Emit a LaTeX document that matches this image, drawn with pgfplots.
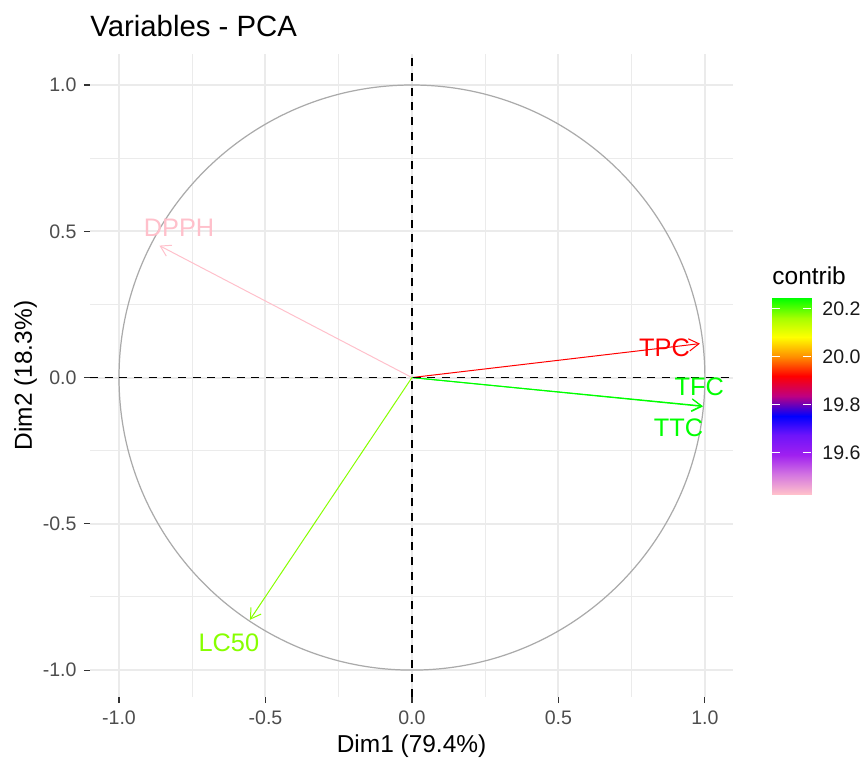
\documentclass[border=0pt]{standalone}
\usepackage{pgfplots}
\pgfplotsset{compat=1.18}
\usepackage{fontspec}
\setmainfont{Liberation Sans}
\usetikzlibrary{arrows.meta}
\definecolor{gray92}{RGB}{235,235,235}
\definecolor{gray30}{RGB}{77,77,77}
\definecolor{circ}{RGB}{170,170,170}
\definecolor{tickc}{RGB}{51,51,51}
\definecolor{cpink}{RGB}{255,192,203}
\definecolor{cred}{RGB}{255,0,0}
\definecolor{cgreen}{RGB}{0,255,0}
\definecolor{clc}{RGB}{135,255,0}
\pgfplotsset{colormap={contrib}{rgb255=(255,192,203) rgb255=(210,115,225) rgb255=(160,32,240) rgb255=(110,20,250) rgb255=(0,0,255) rgb255=(190,0,130) rgb255=(255,0,0) rgb255=(255,140,0) rgb255=(255,255,0) rgb255=(165,255,0) rgb255=(0,255,0)}}
\newcommand{\ticksize}{\fontsize{8.8}{10}\selectfont}
\newcommand{\labsize}{\fontsize{11.4}{13}\selectfont}
\begin{document}
\begin{tikzpicture}
\useasboundingbox (0pt,0pt) rectangle (389.7pt,343.35pt);
\begin{axis}[at={(40.5pt,29.7pt)}, anchor=south west, scale only axis,
  width=289.35pt, height=289.35pt,
  xmin=-1.099, xmax=1.096, ymin=-1.092, ymax=1.106,
  axis line style={draw=none},
  xtick={-1,-0.5,0,0.5,1}, ytick={-1,-0.5,0,0.5,1},
  minor xtick={-0.75,-0.25,0.25,0.75}, minor ytick={-0.75,-0.25,0.25,0.75},
  grid=both,
  major grid style={color=gray92, line width=0.9pt},
  minor grid style={color=gray92, line width=0.45pt},
  tick align=outside, tick pos=left,
  major tick length=2.75pt, minor tick length=0pt,
  major tick style={draw=tickc, line width=0.5pt},
  /pgf/number format/assume math mode=true,
  xticklabel style={font=\ticksize, text=gray30, inner sep=0pt, anchor=north, yshift=-3.4pt, /pgf/number format/fixed, /pgf/number format/precision=1, /pgf/number format/fixed zerofill},
  yticklabel style={font=\ticksize, text=gray30, inner sep=0pt, anchor=east, xshift=-3.1pt, /pgf/number format/fixed, /pgf/number format/precision=1, /pgf/number format/fixed zerofill},
  clip=false,
]
\draw[circ, line width=0.55pt] (axis cs:0,0) ellipse [x radius=1, y radius=1];
\addplot[cpink, line width=0.45pt, -{Straight Barb[length=4.5pt,width=5.5pt]}] coordinates {(0,0) (-0.862,0.451)};
\addplot[cred, line width=0.45pt, -{Straight Barb[length=4.5pt,width=5.5pt]}] coordinates {(0,0) (0.983,0.116)};
\addplot[cgreen, line width=0.45pt, -{Straight Barb[length=4.5pt,width=5.5pt]}] coordinates {(0,0) (0.992,-0.097)};
\addplot[cgreen, line width=0.45pt, -{Straight Barb[length=4.5pt,width=5.5pt]}] coordinates {(0,0) (0.993,-0.099)};
\addplot[clc, line width=0.45pt, -{Straight Barb[length=4.5pt,width=5.5pt]}] coordinates {(0,0) (-0.553,-0.828)};
\addplot[black, line width=0.75pt, dash pattern=on 3.6pt off 3.0pt] coordinates {(-1.099,0) (1.096,0)};
\addplot[black, line width=0.75pt, dash pattern=on 3.6pt off 3.0pt] coordinates {(0,-1.092) (0,1.106)};
\node[text=cpink, font=\labsize, inner sep=0pt] at (axis cs:-0.795,0.513) {DPPH};
\node[text=cred, font=\labsize, inner sep=0pt] at (axis cs:0.862,0.103) {TPC};
\node[text=cgreen, font=\labsize, inner sep=0pt] at (axis cs:0.981,-0.031) {TFC};
\node[text=cgreen, font=\labsize, inner sep=0pt] at (axis cs:0.910,-0.171) {TTC};
\node[text=clc, font=\labsize, inner sep=0pt] at (axis cs:-0.625,-0.906) {LC50};
\end{axis}
\begin{axis}[at={(347.4pt,121.05pt)}, anchor=south west, scale only axis,
  width=17.55pt, height=88.2pt,
  xmin=0, xmax=1, ymin=19.428, ymax=20.243,
  colormap name=contrib, point meta min=19.428, point meta max=20.243,
  axis line style={draw=none}, axis on top,
  xtick=\empty, ytick={19.6,19.8,20.0,20.2}, scaled y ticks=false,
  yticklabel pos=right, ytick pos=both, tick align=inside,
  major tick length=3.5pt, major tick style={draw=white, line width=0.55pt},
  /pgf/number format/assume math mode=true,
  yticklabel style={font=\ticksize, text=black!90, inner sep=0pt, anchor=west, xshift=4.95pt, /pgf/number format/fixed, /pgf/number format/precision=1, /pgf/number format/fixed zerofill},
]
\addplot[surf, shader=interp, point meta=y, mesh/cols=2] coordinates {
(0,19.428) (1,19.428)
(0,19.5095) (1,19.5095)
(0,19.591) (1,19.591)
(0,19.6725) (1,19.6725)
(0,19.754) (1,19.754)
(0,19.8355) (1,19.8355)
(0,19.917) (1,19.917)
(0,19.9985) (1,19.9985)
(0,20.080) (1,20.080)
(0,20.1615) (1,20.1615)
(0,20.243) (1,20.243)
};
\end{axis}
\node[anchor=base west, inner sep=0pt, font=\fontsize{13.2}{15}\selectfont] at (40.5pt,326.7pt) {Variables - PCA};
\node[anchor=base, inner sep=0pt, font=\fontsize{11}{13}\selectfont] at (185.2pt,4.95pt) {Dim1 (79.4\%)};
\node[anchor=base, rotate=90, inner sep=0pt, font=\fontsize{11}{13}\selectfont] at (14.4pt,174.4pt) {Dim2 (18.3\%)};
\node[anchor=base west, inner sep=0pt, font=\fontsize{11}{13}\selectfont] at (347.4pt,215.55pt) {contrib};
\end{tikzpicture}
\end{document}
